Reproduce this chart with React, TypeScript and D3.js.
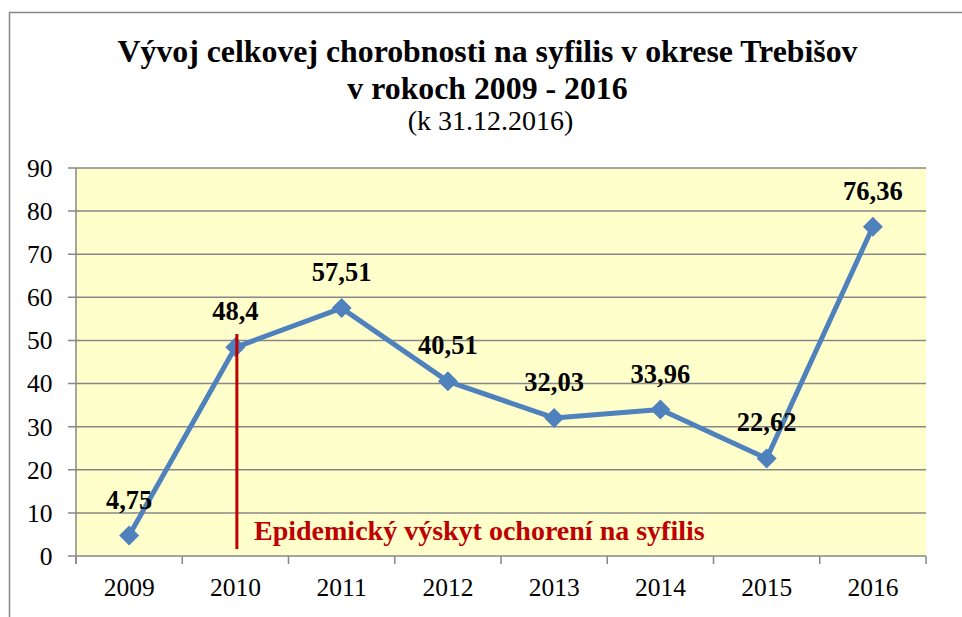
import React from "react";
import * as d3 from "d3";

const years = ["2009", "2010", "2011", "2012", "2013", "2014", "2015", "2016"];
const values = [4.75, 48.4, 57.51, 40.51, 32.03, 33.96, 22.62, 76.36];
const labels = ["4,75", "48,4", "57,51", "40,51", "32,03", "33,96", "22,62", "76,36"];
const yTicks = [0, 10, 20, 30, 40, 50, 60, 70, 80, 90];
const titleLines = ["Vývoj celkovej chorobnosti na syfilis v okrese Trebišov", "v rokoch 2009 - 2016"];
const subtitle = "(k 31.12.2016)";
const annotation = "Epidemický výskyt ochorení na syfilis";

export default function App() {
  const W = 962, H = 617;
  const left = 76, right = 926, top = 168, bottom = 556;
  const x = d3.scaleBand().domain(years).range([left, right]);
  const y = d3.scaleLinear().domain([0, 90]).range([bottom, top]);
  const cx = (yr: string) => (x(yr) as number) + x.bandwidth() / 2;
  const line = d3.line<number>().x((_, i) => cx(years[i])).y((v) => y(v));
  const grid = "#878787";
  const ms = 10;
  return (
    <svg width={W} height={H} style={{ position: "absolute", left: 0, top: 0, fontFamily: "Liberation Serif" }}>
      <rect x={0} y={0} width={W} height={H} fill="#fff" />
      <rect x={9.5} y={12.5} width={1000} height={700} fill="none" stroke={grid} strokeWidth={1.5} />
      <text x={487.5} y={62} textAnchor="middle" fontSize={31.8} fontWeight="bold">{titleLines[0]}</text>
      <text x={487.5} y={99} textAnchor="middle" fontSize={31.8} fontWeight="bold">{titleLines[1]}</text>
      <text x={490.5} y={130} textAnchor="middle" fontSize={28}>{subtitle}</text>
      <rect x={left} y={top} width={right - left} height={bottom - top} fill="#FFFFCC" />
      {yTicks.map((t) => (
        <g key={t}>
          <line x1={left - 8} x2={right} y1={y(t)} y2={y(t)} stroke={grid} strokeWidth={1.5} />
          <text x={52.5} y={y(t)} dy="0.35em" textAnchor="end" fontSize={25.5}>{t}</text>
        </g>
      ))}
      <line x1={left} x2={left} y1={top} y2={bottom + 8} stroke={grid} strokeWidth={1.5} />
      {years.map((yr) => (
        <line key={"t" + yr} x1={x(yr) as number} x2={x(yr) as number} y1={bottom} y2={bottom + 8} stroke={grid} strokeWidth={1.5} />
      ))}
      <line x1={right} x2={right} y1={bottom} y2={bottom + 8} stroke={grid} strokeWidth={1.5} />
      {years.map((yr) => (
        <text key={"l" + yr} x={cx(yr)} y={596} textAnchor="middle" fontSize={25.5}>{yr}</text>
      ))}
      <path d={line(values) || ""} fill="none" stroke="#4F81BD" strokeWidth={5} strokeLinejoin="round" />
      {values.map((v, i) => (
        <path key={"m" + i} d={`M${cx(years[i])},${y(v) - ms} L${cx(years[i]) + ms},${y(v)} L${cx(years[i])},${y(v) + ms} L${cx(years[i]) - ms},${y(v)} Z`} fill="#4F81BD" />
      ))}
      <line x1={cx(years[1]) + 1.5} x2={cx(years[1]) + 1.5} y1={y(51.5)} y2={y(1.6)} stroke="#C00000" strokeWidth={3} />
      {values.map((v, i) => (
        <text key={"d" + i} x={cx(years[i])} y={y(v) - 27} textAnchor="middle" fontSize={26.5} fontWeight="bold">{labels[i]}</text>
      ))}
      <text x={254} y={540} fontSize={28} fontWeight="bold" fill="#C00000">{annotation}</text>
    </svg>
  );
}
